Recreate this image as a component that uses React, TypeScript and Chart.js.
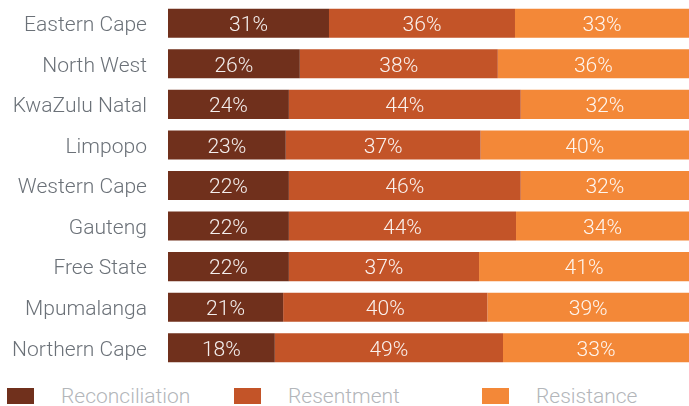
import React, { useEffect, useRef } from "react";
import { Chart, registerables } from "chart.js";

Chart.register(...registerables);

const provinces = [
  "Eastern Cape",
  "North West",
  "KwaZulu Natal",
  "Limpopo",
  "Western Cape",
  "Gauteng",
  "Free State",
  "Mpumalanga",
  "Northern Cape",
];
// bar segment shares as drawn
const reconciliation = [30.9, 25.3, 23.2, 22.6, 23.2, 23.2, 23.2, 22.1, 20.5];
const resentment = [35.7, 38.0, 44.5, 37.4, 44.5, 43.6, 36.5, 39.2, 43.8];
const resistance = [33.4, 36.7, 32.3, 40.0, 32.3, 33.2, 40.3, 38.7, 35.7];
// percentages printed on the bars
const reconciliationLabels = ["31%", "26%", "24%", "23%", "22%", "22%", "22%", "21%", "18%"];
const resentmentLabels = ["36%", "38%", "44%", "37%", "46%", "44%", "37%", "40%", "49%"];
const resistanceLabels = ["33%", "36%", "32%", "40%", "32%", "34%", "41%", "39%", "33%"];
const seriesNames = ["Reconciliation", "Resentment", "Resistance"];
const seriesColors = ["#70301c", "#c35428", "#f38838"];

const FONT = "Roboto, 'Noto Sans', sans-serif";
const STRETCH = 1.08;

function stretchedText(ctx: CanvasRenderingContext2D, text: string, x: number, y: number) {
  ctx.save();
  ctx.translate(x, y);
  ctx.scale(STRETCH, 1);
  ctx.fillText(text, 0, 0);
  ctx.restore();
}

const labelPlugin = {
  id: "barLabels",
  afterDatasetsDraw(chart: any) {
    const ctx = chart.ctx;
    ctx.save();
    ctx.font = `300 19.5px ${FONT}`;
    ctx.textBaseline = "middle";
    // value labels
    ctx.fillStyle = "rgba(255,255,255,0.92)";
    ctx.textAlign = "center";
    chart.data.datasets.forEach((ds: any, di: number) => {
      const meta = chart.getDatasetMeta(di);
      meta.data.forEach((el: any, i: number) => {
        const p = el.getProps(["x", "y", "base"], true);
        const cx = (p.x + p.base) / 2;
        stretchedText(ctx, ds.valueLabels[i], cx, p.y + 3);
      });
    });
    // category labels
    const yScale = chart.scales.y;
    ctx.fillStyle = "#6b7178";
    ctx.textAlign = "right";
    chart.data.labels.forEach((lab: string, i: number) => {
      stretchedText(ctx, lab, yScale.right - 21, yScale.getPixelForTick(i) + 3);
    });
    ctx.restore();
  },
};

export default function App() {
  const ref = useRef<HTMLCanvasElement | null>(null);

  useEffect(() => {
    if (!ref.current) return;
    const data = [reconciliation, resentment, resistance];
    const labels = [reconciliationLabels, resentmentLabels, resistanceLabels];
    const chart = new Chart(ref.current, {
      type: "bar",
      data: {
        labels: provinces,
        datasets: seriesNames.map((name, i) => ({
          label: name,
          data: data[i],
          valueLabels: labels[i],
          backgroundColor: seriesColors[i],
          borderWidth: 0,
          barPercentage: 0.716,
          categoryPercentage: 1,
        })) as any,
      },
      options: {
        indexAxis: "y",
        animation: false,
        responsive: false,
        maintainAspectRatio: false,
        layout: { padding: { top: 3, bottom: 3, left: 0, right: 0 } },
        plugins: {
          legend: { display: false },
          tooltip: { enabled: false },
        },
        scales: {
          x: {
            stacked: true,
            display: false,
            min: 0,
            max: 100,
          },
          y: {
            stacked: true,
            grid: { display: false, drawTicks: false },
            border: { display: false },
            ticks: { display: false },
            afterFit(scale: any) {
              scale.width = 168;
            },
          },
        },
      },
      plugins: [labelPlugin],
    });
    return () => chart.destroy();
  }, []);

  const colWidths = [227, 248, 200];

  return (
    <div
      style={{
        position: "absolute",
        left: 0,
        top: 0,
        width: 689,
        height: 406,
        overflow: "hidden",
        background: "#fff",
      }}
    >
      <canvas ref={ref} width={689} height={371} style={{ display: "block" }} />
      <div
        style={{
          position: "absolute",
          left: 7,
          top: 384,
          display: "flex",
          fontFamily: FONT,
          fontWeight: 300,
          fontSize: 21,
          lineHeight: "25px",
          color: "#b3b6ba",
          whiteSpace: "nowrap",
        }}
      >
        {seriesNames.map((name, i) => (
          <div key={name} style={{ display: "flex", alignItems: "flex-start", width: colWidths[i] }}>
            <span
              style={{
                display: "inline-block",
                width: 27,
                height: 16,
                marginTop: 4,
                background: seriesColors[i],
                marginRight: 27,
              }}
            />
            <span>{name}</span>
          </div>
        ))}
      </div>
    </div>
  );
}
